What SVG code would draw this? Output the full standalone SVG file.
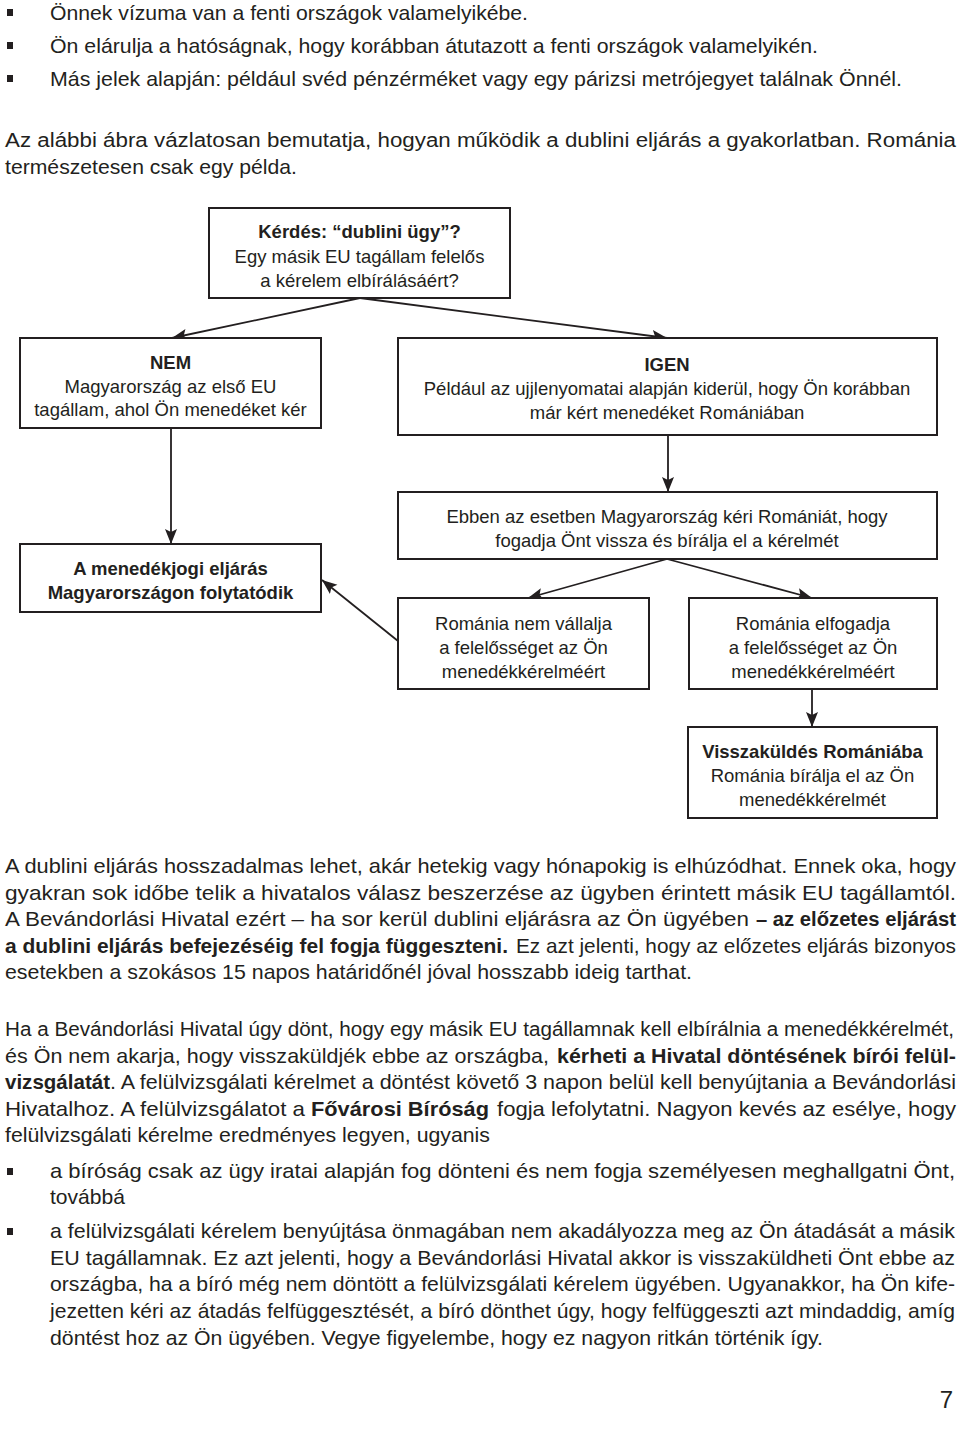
<svg xmlns="http://www.w3.org/2000/svg" width="960" height="1435" viewBox="0 0 960 1435">
<style>
.t{font-family:"Liberation Sans",Arial,sans-serif;font-size:21px;fill:#231f20}
.s{font-size:20px}
.b{font-weight:bold}
.bx{font-family:"Liberation Sans",Arial,sans-serif;font-size:18.5px;fill:#231f20;text-anchor:middle}
.box{fill:#fff;stroke:#231f20;stroke-width:2}
.bul{fill:#231f20}
.con line{stroke:#231f20;stroke-width:1.8;fill:none;marker-end:url(#ah)}
</style>
<defs>
<marker id="ah" markerUnits="userSpaceOnUse" markerWidth="16" markerHeight="14" viewBox="0 0 16 14" refX="15" refY="7" orient="auto">
<path d="M0,1 L15,7 L0,13 L3,7 Z" fill="#231f20"/>
</marker>
</defs>
<rect width="960" height="1435" fill="#fff"/>

<g id="intro">
<rect class="bul" x="7" y="9" width="6" height="7"/>
<text class="t" x="50" y="20" textLength="478" lengthAdjust="spacingAndGlyphs">Önnek vízuma van a fenti országok valamelyikébe.</text>
<rect class="bul" x="7" y="42" width="6" height="7"/>
<text class="t" x="50" y="53" textLength="768" lengthAdjust="spacingAndGlyphs">Ön elárulja a hatóságnak, hogy korábban átutazott a fenti országok valamelyikén.</text>
<rect class="bul" x="7" y="75" width="6" height="7"/>
<text class="t" x="50" y="86" textLength="852" lengthAdjust="spacingAndGlyphs">Más jelek alapján: például svéd pénzérméket vagy egy párizsi metrójegyet találnak Önnél.</text>
<text class="t s" x="5" y="147" textLength="951" lengthAdjust="spacingAndGlyphs">Az alábbi ábra vázlatosan bemutatja, hogyan működik a dublini eljárás a gyakorlatban. Románia</text>
<text class="t" x="5" y="174" textLength="292" lengthAdjust="spacingAndGlyphs">természetesen csak egy példa.</text>
</g>

<g id="connectors" class="con">
<line x1="360" y1="298" x2="172" y2="338"/>
<line x1="360" y1="298" x2="667" y2="338"/>
<line x1="171" y1="428" x2="171" y2="544"/>
<line x1="668" y1="435" x2="668" y2="492"/>
<line x1="667" y1="559" x2="528" y2="598"/>
<line x1="667" y1="559" x2="812" y2="598"/>
<line x1="398" y1="641" x2="322" y2="580"/>
<line x1="812" y1="689" x2="812" y2="727"/>
</g>

<g id="n-kerdes">
<rect class="box" x="209" y="208" width="301" height="90"/>
<text class="bx b" x="359.5" y="238">Kérdés: “dublini ügy”?</text>
<text class="bx" x="359.5" y="263">Egy másik EU tagállam felelős</text>
<text class="bx" x="359.5" y="287">a kérelem elbírálásáért?</text>
</g>

<g id="n-nem">
<rect class="box" x="20" y="338" width="301" height="90"/>
<text class="bx b" x="170.5" y="369">NEM</text>
<text class="bx" x="170.5" y="393">Magyarország az első EU</text>
<text class="bx" x="170.5" y="416">tagállam, ahol Ön menedéket kér</text>
</g>

<g id="n-igen">
<rect class="box" x="398" y="338" width="539" height="97"/>
<text class="bx b" x="667" y="371">IGEN</text>
<text class="bx" x="667" y="395">Például az ujjlenyomatai alapján kiderül, hogy Ön korábban</text>
<text class="bx" x="667" y="419">már kért menedéket Romániában</text>
</g>

<g id="n-ebben">
<rect class="box" x="398" y="492" width="539" height="67"/>
<text class="bx" x="667" y="523">Ebben az esetben Magyarország kéri Romániát, hogy</text>
<text class="bx" x="667" y="547">fogadja Önt vissza és bírálja el a kérelmét</text>
</g>

<g id="n-menedekjogi">
<rect class="box" x="20" y="544" width="301" height="68"/>
<text class="bx b" x="170.5" y="575">A menedékjogi eljárás</text>
<text class="bx b" x="170.5" y="599">Magyarországon folytatódik</text>
</g>

<g id="n-romania-nem">
<rect class="box" x="398" y="598" width="251" height="91"/>
<text class="bx" x="523.5" y="630">Románia nem vállalja</text>
<text class="bx" x="523.5" y="654">a felelősséget az Ön</text>
<text class="bx" x="523.5" y="678">menedékkérelméért</text>
</g>

<g id="n-romania-elfogadja">
<rect class="box" x="689" y="598" width="248" height="91"/>
<text class="bx" x="813" y="630">Románia elfogadja</text>
<text class="bx" x="813" y="654">a felelősséget az Ön</text>
<text class="bx" x="813" y="678">menedékkérelméért</text>
</g>

<g id="n-visszakuldes">
<rect class="box" x="688" y="727" width="249" height="91"/>
<text class="bx b" x="812.5" y="758">Visszaküldés Romániába</text>
<text class="bx" x="812.5" y="782">Románia bírálja el az Ön</text>
<text class="bx" x="812.5" y="806">menedékkérelmét</text>
</g>

<g id="para1">
<text class="t" x="5" y="873" textLength="951" lengthAdjust="spacingAndGlyphs">A dublini eljárás hosszadalmas lehet, akár hetekig vagy hónapokig is elhúzódhat. Ennek oka, hogy</text>
<text class="t" x="5" y="900" textLength="951" lengthAdjust="spacingAndGlyphs">gyakran sok időbe telik a hivatalos válasz beszerzése az ügyben érintett másik EU tagállamtól.</text>
<text class="t" x="5" y="926" textLength="744" lengthAdjust="spacingAndGlyphs">A Bevándorlási Hivatal ezért – ha sor kerül dublini eljárásra az Ön ügyében</text>
<text class="t b s" x="756" y="926" textLength="200" lengthAdjust="spacingAndGlyphs">– az előzetes eljárást</text>
<text class="t b" x="5" y="953" textLength="503" lengthAdjust="spacingAndGlyphs">a dublini eljárás befejezéséig fel fogja függeszteni.</text>
<text class="t" x="516" y="953" textLength="440" lengthAdjust="spacingAndGlyphs">Ez azt jelenti, hogy az előzetes eljárás bizonyos</text>
<text class="t" x="5" y="979" textLength="687" lengthAdjust="spacingAndGlyphs">esetekben a szokásos 15 napos határidőnél jóval hosszabb ideig tarthat.</text>
</g>

<g id="para2">
<text class="t s" x="5" y="1036" textLength="949" lengthAdjust="spacingAndGlyphs">Ha a Bevándorlási Hivatal úgy dönt, hogy egy másik EU tagállamnak kell elbírálnia a menedékkérelmét,</text>
<text class="t" x="5" y="1063" textLength="544" lengthAdjust="spacingAndGlyphs">és Ön nem akarja, hogy visszaküldjék ebbe az országba,</text>
<text class="t b" x="557" y="1063" textLength="399" lengthAdjust="spacingAndGlyphs">kérheti a Hivatal döntésének bírói felül-</text>
<text class="t b" x="5" y="1089" textLength="105" lengthAdjust="spacingAndGlyphs">vizsgálatát</text>
<text class="t" x="110" y="1089" textLength="846" lengthAdjust="spacingAndGlyphs">. A felülvizsgálati kérelmet a döntést követő 3 napon belül kell benyújtania a Bevándorlási</text>
<text class="t" x="5" y="1116" textLength="300" lengthAdjust="spacingAndGlyphs">Hivatalhoz. A felülvizsgálatot a</text>
<text class="t b" x="311" y="1116" textLength="178" lengthAdjust="spacingAndGlyphs">Fővárosi Bíróság</text>
<text class="t" x="497" y="1116" textLength="459" lengthAdjust="spacingAndGlyphs">fogja lefolytatni. Nagyon kevés az esélye, hogy</text>
<text class="t" x="5" y="1142" textLength="485" lengthAdjust="spacingAndGlyphs">felülvizsgálati kérelme eredményes legyen, ugyanis</text>
</g>

<g id="bullets">
<rect class="bul" x="7" y="1168" width="6" height="7"/>
<text class="t" x="50" y="1178" textLength="905" lengthAdjust="spacingAndGlyphs">a bíróság csak az ügy iratai alapján fog dönteni és nem fogja személyesen meghallgatni Önt,</text>
<text class="t" x="50" y="1204" textLength="75" lengthAdjust="spacingAndGlyphs">továbbá</text>
<rect class="bul" x="7" y="1228" width="6" height="7"/>
<text class="t" x="50" y="1238" textLength="905" lengthAdjust="spacingAndGlyphs">a felülvizsgálati kérelem benyújtása önmagában nem akadályozza meg az Ön átadását a másik</text>
<text class="t" x="50" y="1265" textLength="905" lengthAdjust="spacingAndGlyphs">EU tagállamnak. Ez azt jelenti, hogy a Bevándorlási Hivatal akkor is visszaküldheti Önt ebbe az</text>
<text class="t" x="50" y="1291" textLength="905" lengthAdjust="spacingAndGlyphs">országba, ha a bíró még nem döntött a felülvizsgálati kérelem ügyében. Ugyanakkor, ha Ön kife-</text>
<text class="t" x="50" y="1318" textLength="905" lengthAdjust="spacingAndGlyphs">jezetten kéri az átadás felfüggesztését, a bíró dönthet úgy, hogy felfüggeszti azt mindaddig, amíg</text>
<text class="t" x="50" y="1345" textLength="773" lengthAdjust="spacingAndGlyphs">döntést hoz az Ön ügyében. Vegye figyelembe, hogy ez nagyon ritkán történik így.</text>
</g>

<text class="t" x="953" y="1408" style="font-size:24px;text-anchor:end">7</text>
</svg>
